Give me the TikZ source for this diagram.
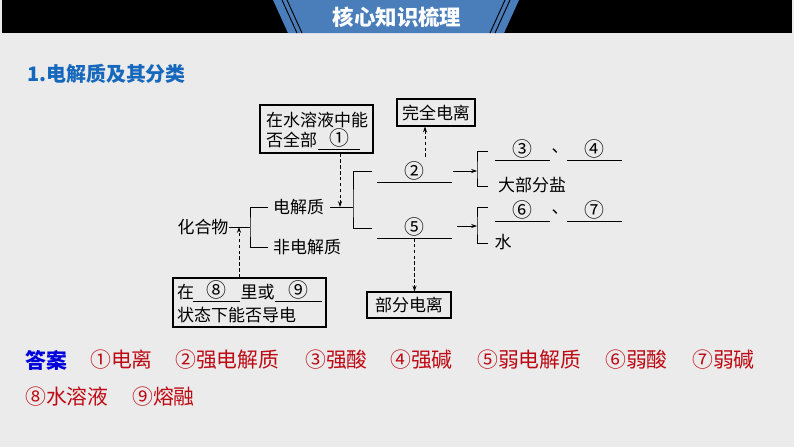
\documentclass[tikz,border=0pt]{standalone}
\usepackage{fontspec}
\newfontfamily\cjk{Noto Sans CJK SC}
\usetikzlibrary{arrows.meta}
\definecolor{bggray}{RGB}{235,235,235}
\definecolor{headblue}{RGB}{74,126,187}
\definecolor{titleblue}{RGB}{22,104,188}
\definecolor{ansred}{RGB}{190,10,20}
\definecolor{ansblue}{RGB}{0,0,220}

\begin{document}
\begin{tikzpicture}[x=0.03cm, y=-0.03cm,
        txt/.style={font=\cjk\fontsize{14.5}{17}\selectfont, inner sep=0pt},
        box/.style={draw, line width=0.9pt, inner sep=0pt},
        blank/.style={txt, font=\cjk\fontsize{17}{18}\selectfont, anchor=south, minimum width=#1, inner ysep=1pt},
        line/.style={line width=0.7pt},
        dasharrow/.style={line width=0.7pt, dash pattern=on 3pt off 2pt, -{Stealth[length=5pt, width=3.5pt]}},
        arrow/.style={line width=0.7pt, -{Stealth[length=5pt, width=3.5pt]}},
        ans/.style={font=\cjk\fontsize{17.8}{20}\selectfont, text=ansred, inner sep=0pt, anchor=west}
    ]

    % Background and header
    \fill[bggray] (0,0) rectangle (794,447);
    \useasboundingbox (0,0) rectangle (794,447);
    \fill[black] (2,0) rectangle (792,33);
    \fill[headblue] (273,0) -- (519,0) -- (504,33) -- (288,33) -- cycle;
    \draw[line width=0.8pt] (282,0) -- (297,33);
    \draw[line width=0.8pt] (287,0) -- (302,33);
    \draw[line width=0.8pt] (510,0) -- (495,33);
    \draw[line width=0.8pt] (505,0) -- (490,33);
    \node[font=\cjk\bfseries\fontsize{18.3}{20}\selectfont, text=white] (head) at (397,17) {核心知识梳理};
    \node[font=\cjk\bfseries\fontsize{17}{20}\selectfont, text=titleblue, anchor=west, inner sep=0pt] (title) at (27,74) {1.电解质及其分类};

    % Question boxes
    \node[box, minimum width=3.39cm, minimum height=1.44cm] (q1) at (316.5,129) {};
    \node[txt, anchor=west] (q1a) at (266,120) {在水溶液中能};
    \node[txt, anchor=west] (q1b) at (266,140) {否全部};
    \node[blank=1.26cm] (b1) at (339,149) {①};
    \draw[line] (b1.south west) -- (b1.south east);

    \node[box, minimum width=4.59cm, minimum height=1.47cm] (q2) at (249.5,302.5) {};
    \node[txt, anchor=west] (q2a) at (177,292) {在};
    \node[blank=1.41cm] (b8) at (216.5,301) {⑧};
    \node[txt] (q2b) at (257.5,292) {里或};
    \node[blank=1.41cm] (b9) at (298.5,301) {⑨};
    \node[txt, anchor=west] (q2c) at (177,315) {状态下能否导电};
    \draw[line] (b8.south west) -- (b8.south east);
    \draw[line] (b9.south west) -- (b9.south east);

    % Compounds
    \node[txt] (cpd) at (203,227) {化合物};
    \node[txt, anchor=west] (ele) at (273,207) {电解质};
    \node[txt, anchor=west] (nonele) at (273,247) {非电解质};
    \coordinate (k1) at (250,227);
    \coordinate (j0) at (239,227);
    \draw[line] (cpd.east) -- (k1);
    \draw[line] ([xshift=-0.15cm]ele.west) -| (k1) |- ([xshift=-0.15cm]nonele.west);
    \draw[dasharrow] (q2.north -| j0) -- (j0);

    % Electrolytes
    \coordinate (k2) at (353,207);
    \coordinate (j1) at (340,207);
    \coordinate (t2) at (372,171);
    \coordinate (t5) at (372,228);
    \draw[line] ([xshift=0.18cm]ele.east) -- (k2);
    \draw[dasharrow] (q1.south -| j1) -- (j1);
    \draw[line] (t2) -| (k2) |- (t5);

    \node[blank=2.25cm] (b2) at (414.5,182) {②};
    \node[blank=2.25cm] (b5) at (414.5,238) {⑤};
    \draw[line] (b2.south west) -- (b2.south east);
    \draw[line] (b5.south west) -- (b5.south east);

    \node[box, txt, minimum width=2.34cm, minimum height=0.81cm] (full) at (436,112.5) {完全电离};
    \node[box, txt, minimum width=2.52cm, minimum height=0.78cm] (part) at (409,305) {部分电离};
    \coordinate (u2) at (425,157);
    \draw[dasharrow] (u2) -- (u2 |- full.south);
    \draw[dasharrow] (b5.south) -- (b5.south |- part.north);

    % Strong
    \coordinate (s2) at (453,171);
    \coordinate (k3) at (477,171);
    \coordinate (t3a) at (488,151);
    \coordinate (t3b) at (488,186);
    \draw[arrow] (s2) -- (k3);
    \draw[line] (t3a) -| (k3) |- (t3b);
    \node[blank=1.65cm] (b3) at (522.5,160) {③};
    \node[txt] (dun1) at (560,151) {、};
    \node[blank=1.65cm] (b4) at (594.5,160) {④};
    \draw[line] (b3.south west) -- (b3.south east);
    \draw[line] (b4.south west) -- (b4.south east);
    \node[txt, anchor=west] (salt) at (498,185) {大部分盐};

    % Weak
    \coordinate (s5) at (457,226);
    \coordinate (k4) at (477,226);
    \coordinate (t4a) at (488,207);
    \coordinate (t4b) at (488,243);
    \draw[arrow] (s5) -- (k4);
    \draw[line] (t4a) -| (k4) |- (t4b);
    \node[blank=1.65cm] (b6) at (522.5,221) {⑥};
    \node[txt] (dun2) at (560,212) {、};
    \node[blank=1.65cm] (b7) at (594.5,221) {⑦};
    \draw[line] (b6.south west) -- (b6.south east);
    \draw[line] (b7.south west) -- (b7.south east);
    \node[txt] (water) at (503,242) {水};

    % Answers
    \node[font=\cjk\bfseries\fontsize{17.8}{20}\selectfont, text=ansblue, anchor=west, inner sep=0pt] (ans) at (25,360) {答案};
    \node[ans] (a1) at (90,360) {①电离};
    \node[ans] (a2) at (175,360) {②强电解质};
    \node[ans] (a3) at (305,360) {③强酸};
    \node[ans] (a4) at (390,360) {④强碱};
    \node[ans] (a5) at (477,360) {⑤弱电解质};
    \node[ans] (a6) at (605,360) {⑥弱酸};
    \node[ans] (a7) at (692,360) {⑦弱碱};
    \node[ans] (a8) at (25,397) {⑧水溶液};
    \node[ans] (a9) at (132,397) {⑨熔融};

    \end{tikzpicture}
\end{document}
